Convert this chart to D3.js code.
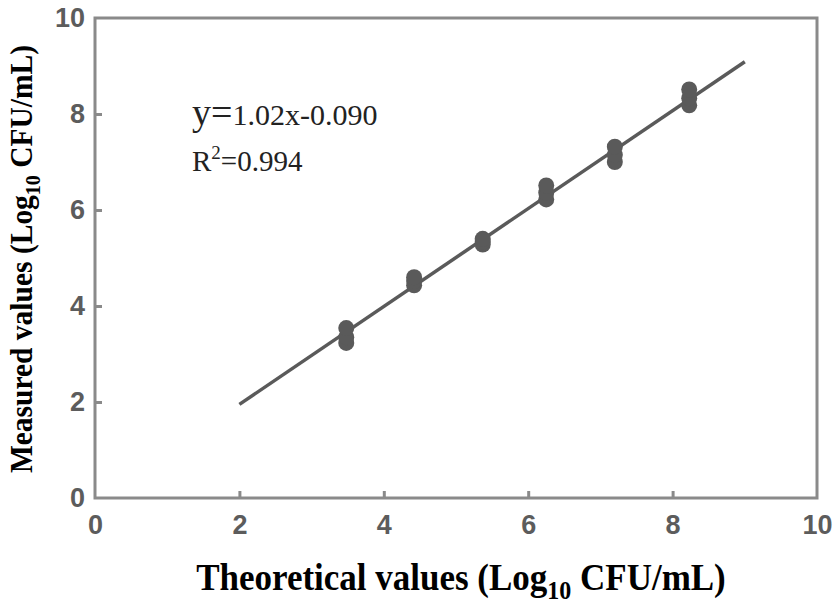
<!DOCTYPE html>
<html>
<head>
<meta charset="utf-8">
<script src="https://cdn.jsdelivr.net/npm/d3@7"></script>
<style>
  body { margin: 0; background: #fff; }
</style>
</head>
<body>
<div class="canvas"></div>
<script>
const theoretical = [3.48, 4.42, 5.37, 6.25, 7.20, 8.23];
const rep1 = [3.23, 4.43, 5.28, 6.22, 7.00, 8.18];
const rep2 = [3.35, 4.52, 5.34, 6.36, 7.15, 8.33];
const rep3 = [3.54, 4.60, 5.40, 6.51, 7.32, 8.51];
const slope = 1.02;
const intercept = -0.090;
const fitRange = [2, 9];
const ticks = [0, 2, 4, 6, 8, 10];

const width = 839, height = 606;
const margin = { left: 95, right: 22, top: 18, bottom: 108 };

const svg = d3.select('.canvas')
  .append('svg')
  .attr('width', width)
  .attr('height', height);

const x = d3.scaleLinear().domain([0, 10]).range([margin.left, width - margin.right]);
const y = d3.scaleLinear().domain([0, 10]).range([height - margin.bottom, margin.top]);

const grey = '#5a5a5a';
const frame = '#8a8a8a';

// frame box
svg.append('rect')
  .attr('x', x(0)).attr('y', y(10))
  .attr('width', x(10) - x(0)).attr('height', y(0) - y(10))
  .attr('fill', 'none').attr('stroke', frame).attr('stroke-width', 3);

const xAxis = svg.append('g')
  .attr('transform', `translate(0, ${y(0)})`)
  .call(d3.axisBottom(x).tickValues(ticks).tickSizeInner(-7).tickSizeOuter(0).tickPadding(17));

const yAxis = svg.append('g')
  .attr('transform', `translate(${x(0)}, 0)`)
  .call(d3.axisLeft(y).tickValues(ticks).tickSizeInner(-7).tickSizeOuter(0).tickPadding(10));

[xAxis, yAxis].forEach(g => {
  g.select('.domain').remove();
  g.selectAll('.tick line').attr('stroke', frame).attr('stroke-width', 3);
  g.selectAll('.tick text')
    .attr('fill', '#5c5c5c')
    .style('font-family', 'Liberation Sans, Arial, sans-serif')
    .style('font-weight', 'bold')
    .style('font-size', '27px');
});
// hide ticks at the frame corners
xAxis.selectAll('.tick').filter(d => d === 0 || d === 10).select('line').remove();
yAxis.selectAll('.tick').filter(d => d === 0 || d === 10).select('line').remove();

// fit line
svg.append('line')
  .attr('x1', x(fitRange[0])).attr('y1', y(slope * fitRange[0] + intercept))
  .attr('x2', x(fitRange[1])).attr('y2', y(slope * fitRange[1] + intercept))
  .attr('stroke', grey).attr('stroke-width', 3.5);

// points
const points = [rep1, rep2, rep3].flatMap(rep => rep.map((v, i) => ({ x: theoretical[i], y: v })));
svg.append('g')
  .selectAll('circle')
  .data(points)
  .enter().append('circle')
  .attr('cx', d => x(d.x))
  .attr('cy', d => y(d.y))
  .attr('r', 8)
  .attr('fill', grey);

// equation
const serif = 'Liberation Serif, Times New Roman, serif';
const eq = svg.append('text')
  .attr('x', 192).attr('y', 125)
  .attr('fill', '#222')
  .style('font-family', serif);
eq.append('tspan').style('font-size', '38px').text('y=');
eq.append('tspan').style('font-size', '30px').text('1.02x-0.090');

const r2 = svg.append('text')
  .attr('x', 192).attr('y', 171)
  .attr('fill', '#222')
  .style('font-family', serif)
  .style('font-size', '29px');
r2.append('tspan').text('R');
r2.append('tspan').attr('dy', -12).style('font-size', '19px').text('2');
r2.append('tspan').attr('dy', 12).text('=0.994');

// axis titles
const xt = svg.append('text')
  .attr('transform', `translate(461, 590) scale(1, 1.08)`)
  .attr('text-anchor', 'middle')
  .style('font-family', serif)
  .style('font-weight', 'bold')
  .style('font-size', '35px');
xt.append('tspan').text('Theoretical values (Log');
xt.append('tspan').attr('dy', 8).style('font-size', '24px').text('10');
xt.append('tspan').attr('dy', -8).text(' CFU/mL)');

const yt = svg.append('text')
  .attr('transform', `translate(32, 259) rotate(-90) scale(1, 1.1)`)
  .attr('text-anchor', 'middle')
  .style('font-family', serif)
  .style('font-weight', 'bold')
  .style('font-size', '29.5px');
yt.append('tspan').text('Measured values (Log');
yt.append('tspan').attr('dy', 7).style('font-size', '20px').text('10');
yt.append('tspan').attr('dy', -7).text(' CFU/mL)');
</script>
</body>
</html>
